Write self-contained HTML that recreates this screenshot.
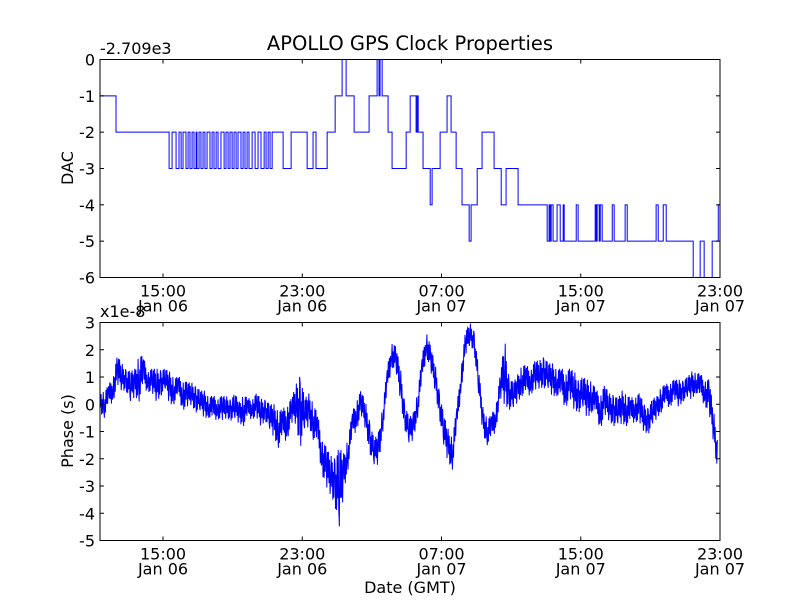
<!DOCTYPE html>
<html><head><meta charset="utf-8"><style>
html,body{margin:0;padding:0;background:#fff;}
svg{display:block;font-family:"DejaVu Sans","Liberation Sans",sans-serif;}
</style></head><body>
<svg id="chart" width="800" height="600" xmlns="http://www.w3.org/2000/svg">
<rect width="800" height="600" fill="#fff"/>
<text x="410" y="50" font-size="19.5" text-anchor="middle">APOLLO GPS Clock Properties</text>
<text x="100" y="54" font-size="16">-2.709e3</text>
<text x="100" y="317" font-size="16">x1e-8</text>
<text transform="translate(73,168) rotate(-90)" font-size="16" text-anchor="middle">DAC</text>
<text transform="translate(73,431) rotate(-90)" font-size="16" text-anchor="middle">Phase (s)</text>
<text x="410" y="593" font-size="16" text-anchor="middle">Date (GMT)</text>
<g id="topg"></g>
<g id="botg"></g>
</svg>
<script>
// x domain in hours since 00:00 Jan 06
const xStart = 11.38, xEnd = 47.0;
const tickHours = [15, 23, 31, 39, 47];
const tickTimes = ["15:00", "23:00", "07:00", "15:00", "23:00"];
const tickDates = ["Jan 06", "Jan 06", "Jan 07", "Jan 07", "Jan 07"];
const dacTicks = [0, -1, -2, -3, -4, -5, -6];
const phaseTicks = [3, 2, 1, 0, -1, -2, -3, -4, -5];
// DAC step changes: [hour, value]
const dacTimes = [11.38,12.30,15.35,15.52,15.75,15.92,16.04,16.15,16.32,16.44,16.55,16.67,16.78,16.90,16.95,17.07,17.18,17.30,17.41,17.53,17.70,17.82,17.93,18.05,18.16,18.33,18.51,18.62,18.74,18.85,18.97,19.08,19.20,19.31,19.48,19.60,19.71,19.83,19.94,20.12,20.29,20.46,20.63,20.81,20.92,21.04,21.15,21.27,21.90,22.36,23.28,23.62,23.79,24.43,24.89,25.29,25.52,25.98,26.84,27.30,27.41,27.47,27.59,27.93,28.16,28.97,29.20,29.54,29.60,29.66,29.94,30.35,30.46,30.92,31.32,31.55,31.84,32.18,32.59,32.70,33.05,33.33,34.02,34.43,34.71,35.40,37.07,37.18,37.24,37.30,37.41,37.64,37.82,37.99,38.05,38.74,38.85,39.83,39.89,39.94,40.06,40.12,40.23,40.81,40.92,41.55,41.67,43.33,43.45,43.74,43.91,45.46,45.86,46.09,46.55,46.90];
const dacValues = [-1,-2,-3,-2,-3,-2,-3,-2,-3,-2,-3,-2,-3,-2,-3,-2,-3,-2,-3,-2,-3,-2,-3,-2,-3,-2,-3,-2,-3,-2,-3,-2,-3,-2,-3,-2,-3,-2,-3,-2,-3,-2,-3,-2,-3,-2,-3,-2,-3,-2,-3,-2,-3,-2,-1,0,-1,-2,-1,0,-1,0,-1,-2,-3,-2,-1,-2,-1,-2,-3,-4,-3,-2,-1,-2,-3,-4,-5,-4,-3,-2,-3,-4,-3,-4,-5,-4,-5,-4,-5,-4,-5,-4,-5,-4,-5,-4,-5,-4,-5,-4,-5,-4,-5,-4,-5,-4,-5,-4,-5,-6,-5,-6,-5,-4];
// Phase (x1e-8 s), sampled every 0.25 h from xStart: center and noise spread
const phaseStep = 0.25;
const phaseCenter = [0.1,0.0,0.3,0.6,1.2,1.0,0.9,0.6,0.8,1.0,1.1,0.9,0.8,0.7,0.8,0.9,0.6,0.5,0.6,0.4,0.3,0.4,0.2,0.1,0.0,-0.1,-0.2,-0.1,-0.2,-0.1,-0.2,-0.1,-0.3,-0.2,-0.2,-0.1,-0.1,-0.3,-0.2,-0.5,-0.6,-0.9,-0.8,-0.6,-0.3,0.0,-0.2,-0.4,-0.2,-0.6,-1.0,-1.8,-2.4,-2.6,-2.8,-3.2,-2.5,-1.8,-0.8,-0.3,0.0,-0.4,-1.2,-1.8,-1.6,-0.5,0.8,1.9,1.6,0.8,-0.4,-1.0,-0.8,0.0,1.2,2.3,1.6,1.0,0.0,-1.0,-1.5,-1.8,-0.6,1.0,2.2,2.6,2.3,0.8,-0.6,-1.0,-0.9,-0.4,0.6,1.2,0.4,0.3,0.6,0.9,0.8,0.9,1.0,1.1,1.2,1.0,0.9,0.8,0.7,0.6,0.7,0.5,0.3,0.4,0.2,0.3,0.0,-0.2,0.1,-0.1,-0.2,-0.3,-0.1,-0.2,-0.3,-0.1,-0.2,-0.5,-0.6,-0.3,-0.1,0.2,0.3,0.4,0.5,0.4,0.5,0.6,0.7,0.8,0.6,0.5,0.2,-0.8,-2.0];
const phaseSpread = [0.4,0.5,0.4,0.5,0.6,0.5,0.4,0.6,0.5,0.9,0.6,0.4,0.5,0.6,0.5,0.4,0.6,0.5,0.4,0.6,0.5,0.4,0.5,0.4,0.5,0.4,0.5,0.4,0.5,0.4,0.4,0.5,0.4,0.6,0.4,0.4,0.5,0.5,0.4,0.5,0.6,0.7,0.6,0.7,0.5,0.7,1.4,0.6,0.6,0.7,0.6,0.7,0.8,0.7,0.9,1.6,0.7,0.6,0.5,0.6,0.5,0.5,0.6,0.5,0.6,0.5,0.5,0.5,0.5,0.6,0.5,0.5,0.5,0.5,0.5,0.5,0.5,0.5,0.5,0.6,0.6,0.6,0.5,0.5,0.5,0.4,0.4,0.5,0.5,0.5,0.5,0.5,0.5,1.2,0.6,0.5,0.5,0.6,0.6,0.5,0.6,0.5,0.6,0.5,0.6,0.5,0.6,0.7,0.6,0.7,0.6,0.6,0.7,0.6,0.5,0.7,0.6,0.5,0.6,0.5,0.6,0.6,0.5,0.5,0.6,0.5,0.5,0.5,0.4,0.5,0.4,0.5,0.4,0.5,0.4,0.4,0.5,0.4,0.5,0.5,0.7,0.6];
// rendering pattern for sub-sample jitter inside each sample's band (style, not data)
const jitterPattern = [1, -0.5, 0.7, -1, 0.3, -0.8, 0.9, -0.3];

const NS = "http://www.w3.org/2000/svg";
const L = 100, R = 720;
const xs = h => L + (h - xStart) / (xEnd - xStart) * (R - L);
function mk(tag, attrs, parent){ const e = document.createElementNS(NS, tag); for (const k in attrs) e.setAttribute(k, attrs[k]); parent.appendChild(e); return e; }

function axes(g, y0, y1, vmax, vmin, yTicks, name){
  const ys = v => y0 + (vmax - v) / (vmax - vmin) * (y1 - y0);
  const clipId = name + "-clip";
  const cp = mk("clipPath", {id: clipId}, g);
  mk("rect", {x: L, y: y0, width: R - L, height: y1 - y0}, cp);
  const plot = mk("g", {"clip-path": "url(#" + clipId + ")"}, g);
  
  
  yTicks.forEach(v => {
    const y = ys(v);
    mk("line", {x1: L, x2: L + 4, y1: y, y2: y, stroke: "#000"}, g);
    mk("line", {x1: R, x2: R - 4, y1: y, y2: y, stroke: "#000"}, g);
    const t = mk("text", {x: L - 5, y: y + 6, "font-size": 16, "text-anchor": "end"}, g);
    t.textContent = String(v);
    
    
  });
  tickHours.forEach((h, i) => {
    const x = xs(h);
    mk("line", {x1: x, x2: x, y1: y1, y2: y1 - 4, stroke: "#000"}, g);
    mk("line", {x1: x, x2: x, y1: y0, y2: y0 + 4, stroke: "#000"}, g);
    const t1 = mk("text", {x: x, y: y1 + 19, "font-size": 16, "text-anchor": "middle"}, g);
    t1.textContent = tickTimes[i];
    
    
    const t2 = mk("text", {x: x, y: y1 + 34, "font-size": 16, "text-anchor": "middle"}, g);
    t2.textContent = tickDates[i];
    
    
  });
  const fr = mk("rect", {x: L, y: y0, width: R - L, height: y1 - y0, fill: "none", stroke: "#000", "stroke-width": 1}, g);
  
  
  return {ys, plot};
}

const topAx = axes(document.getElementById("topg"), 59.5, 277.5, 0, -6, dacTicks, "dac");
let d = "";
dacTimes.forEach((h, i) => {
  const x = xs(h), y = topAx.ys(dacValues[i]);
  if (i === 0) d += "M" + x + "," + y;
  else d += "L" + x + "," + topAx.ys(dacValues[i - 1]) + "L" + x + "," + y;
});
d += "L" + xs(xEnd) + "," + topAx.ys(dacValues[dacValues.length - 1]);
const dacLine = mk("path", {d: d, fill: "none", stroke: "#0000ff", "stroke-width": 1}, topAx.plot);



const botAx = axes(document.getElementById("botg"), 322.5, 540.5, 3, -5, phaseTicks, "phase");
let p = "";
const nj = jitterPattern.length;
phaseCenter.forEach((c, i) => {
  const h = xStart + i * phaseStep;
  const cNext = i + 1 < phaseCenter.length ? phaseCenter[i + 1] : c;
  const sNext = i + 1 < phaseSpread.length ? phaseSpread[i + 1] : phaseSpread[i];
  for (let k = 0; k < nj; k++) {
    const f = k / nj;
    const cc = c + (cNext - c) * f;
    const ss = phaseSpread[i] + (sNext - phaseSpread[i]) * f;
    const x = xs(h + phaseStep * f);
    const y = botAx.ys(cc + ss * jitterPattern[(k + i * 3) % nj]);
    p += (i === 0 && k === 0 ? "M" : "L") + x.toFixed(2) + "," + y.toFixed(2);
  }
});
const phaseLine = mk("path", {d: p, fill: "none", stroke: "#0000ff", "stroke-width": 1}, botAx.plot);


</script>
</body></html>
